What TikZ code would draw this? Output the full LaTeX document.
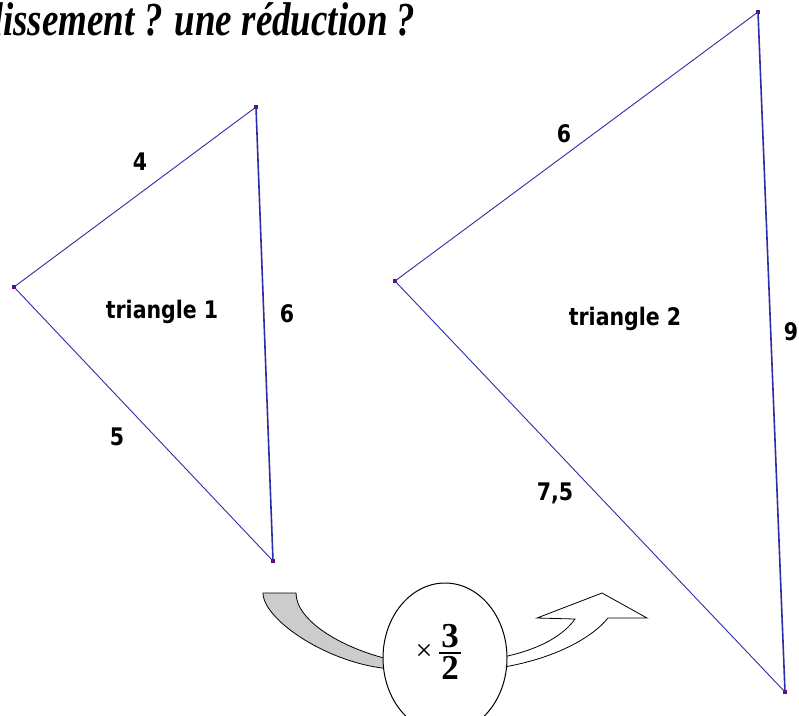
\documentclass[tikz,border=0pt]{standalone}
\usepackage{fontspec}
\setmainfont{Liberation Serif}
\newfontfamily\labfont{DejaVu Sans}
\usetikzlibrary{positioning,shapes.geometric,calc}
\definecolor{edge}{RGB}{45,45,165}
\definecolor{vert}{RGB}{120,0,120}
\definecolor{shade}{RGB}{204,204,204}
\newcommand{\tall}[1]{\scalebox{1}[1.18]{#1}}

\begin{document}
\begin{tikzpicture}[x=1pt, y=-1pt,
  side/.style={edge, line width=0.9pt},
  upright/.style={edge, line width=1.6pt},
  vtx/.style={rectangle, fill=vert, minimum size=4pt, inner sep=0pt},
  lab/.style={font=\labfont\bfseries\fontsize{20.5}{24}\selectfont, inner sep=0pt},
  big/.style={font=\bfseries\fontsize{35}{38}\selectfont, inner sep=0pt},
  turn/.style={draw=black, line width=0.8pt, line join=miter}]
  \useasboundingbox (0,0) rectangle (799,715);
  \clip (0,0) rectangle (799,715);
  \node[font=\bfseries\itshape\fontsize{37}{40}\selectfont, anchor=base west, inner sep=0pt]
    (title) at (-15.5,35) {\scalebox{1}[1.28]{dissement ? une réduction ?}};

  \node[vtx] (a1) at (14,287) {};
  \node[vtx] (b1) at (256,107) {};
  \node[vtx] (c1) at (273,561) {};
  \draw[side] (a1.center) -- (b1.center);
  \draw[side] (a1.center) -- (c1.center);
  \draw[upright] (b1.center) -- (c1.center);
  \node[lab] (l4) at (140,162) {\tall{4}};
  \node[lab] (l5) at (117,437) {\tall{5}};
  \node[lab] (l6) at (287,314) {\tall{6}};
  \node[lab] (t1) at (162,312) {\tall{triangle 1}};

  \node[vtx] (a2) at (395,281) {};
  \node[vtx] (b2) at (758,12) {};
  \node[vtx] (c2) at (785,692) {};
  \draw[side] (a2.center) -- (b2.center);
  \draw[side] (a2.center) -- (c2.center);
  \draw[upright] (b2.center) -- (c2.center);
  \node[lab] (m6) at (564,134) {\tall{6}};
  \node[lab] (m75) at (555,493) {\tall{7,5}};
  \node[lab] (m9) at (791,332) {\tall{9}};
  \node[lab] (t2) at (625,319) {\tall{triangle 2}};

  \filldraw[turn, fill=shade] (263,593) -- (296,593)
    .. controls (296,620) and (340,648) .. (392,660) -- (392,669)
    .. controls (330,665) and (263,620) .. (263,593) -- cycle;
  \filldraw[turn, fill=white] (498,658)
    .. controls (530,652) and (560,640) .. (575,619) -- (537,618)
    -- (602,593) -- (647,618) -- (608,618)
    .. controls (590,640) and (550,660) .. (498,668) -- cycle;
  \node[draw=black, line width=1pt, ellipse, fill=white,
    minimum width=124pt, minimum height=150pt] (ratio) at (445,658) {};
  \node[font=\fontsize{30}{32}\selectfont, inner sep=0pt] (times) at (424,652) {×};
  \node[big] (num) at (450,636) {3};
  \node[big] (den) at (450,668) {2};
  \draw[line width=1.1pt] ($(num.south west)+(-2,5)$) -- ($(num.south east)+(2,5)$);
\end{tikzpicture}
\end{document}
